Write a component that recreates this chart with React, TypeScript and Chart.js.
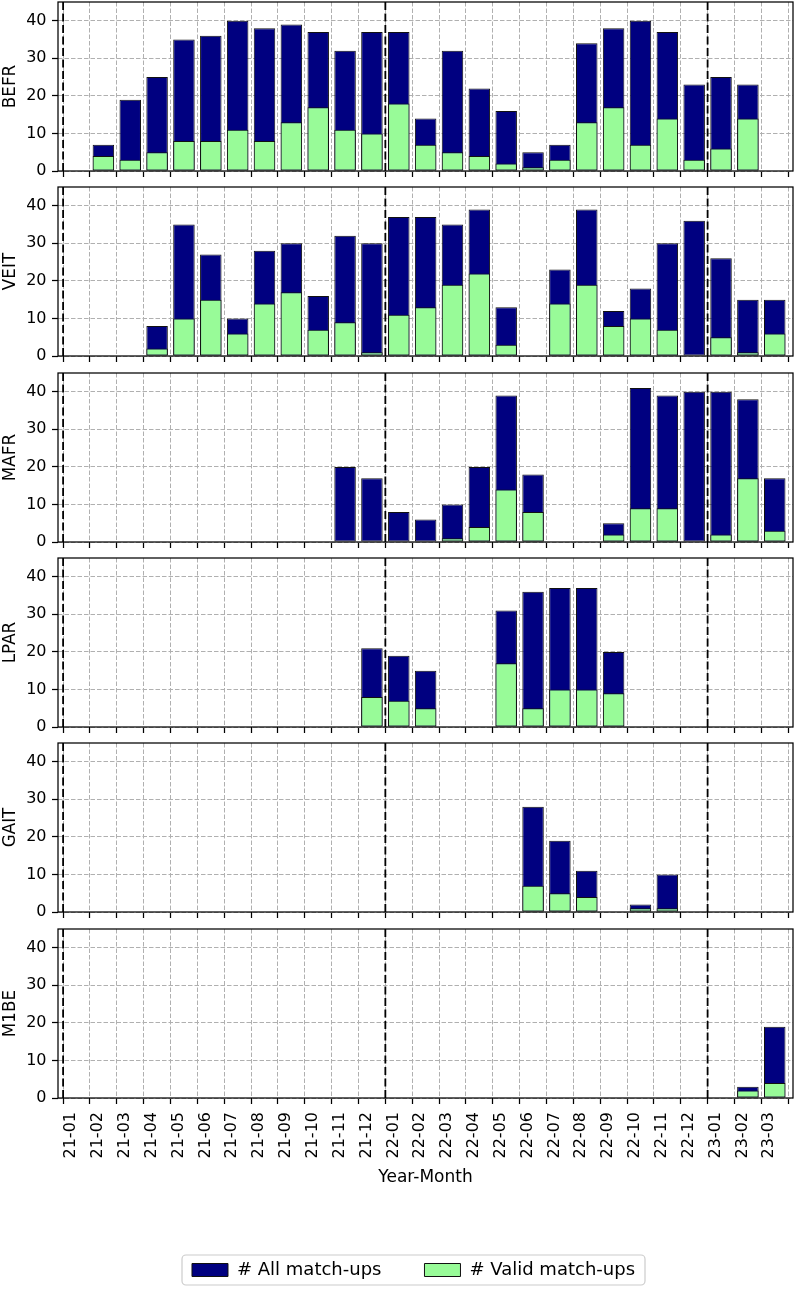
import { useEffect, useRef } from 'react';
import { Chart, registerables } from 'chart.js';

Chart.register(...registerables);
Chart.defaults.font.family = "'DejaVu Sans', sans-serif";
Chart.defaults.color = '#000';

// ---------- data ----------
const months = [
  '21-01', '21-02', '21-03', '21-04', '21-05', '21-06', '21-07', '21-08', '21-09',
  '21-10', '21-11', '21-12', '22-01', '22-02', '22-03', '22-04', '22-05', '22-06',
  '22-07', '22-08', '22-09', '22-10', '22-11', '22-12', '23-01', '23-02', '23-03',
];
// month boundary ticks (start of each month, last one = end of 23-03)
const boundaryTicks = [
  0, 1, 2, 3, 4, 5, 6, 7, 8, 9, 10, 11, 12, 13, 14, 15, 16, 17, 18, 19, 20, 21, 22, 23, 24, 25, 26, 27,
];
const yTicks = [0, 10, 20, 30, 40];
const yearStarts = ['21-01', '22-01', '23-01'];

const befrAll = [0, 7, 19, 25, 35, 36, 40, 38, 39, 37, 32, 37, 37, 14, 32, 22, 16, 5, 7, 34, 38, 40, 37, 23, 25, 23, 0];
const befrValid = [0, 4, 3, 5, 8, 8, 11, 8, 13, 17, 11, 10, 18, 7, 5, 4, 2, 1, 3, 13, 17, 7, 14, 3, 6, 14, 0];

const veitAll = [0, 0, 0, 8, 35, 27, 10, 28, 30, 16, 32, 30, 37, 37, 35, 39, 13, 0, 23, 39, 12, 18, 30, 36, 26, 15, 15];
const veitValid = [0, 0, 0, 2, 10, 15, 6, 14, 17, 7, 9, 1, 11, 13, 19, 22, 3, 0, 14, 19, 8, 10, 7, 0, 5, 1, 6];

const mafrAll = [0, 0, 0, 0, 0, 0, 0, 0, 0, 0, 20, 17, 8, 6, 10, 20, 39, 18, 0, 0, 5, 41, 39, 40, 40, 38, 17];
const mafrValid = [0, 0, 0, 0, 0, 0, 0, 0, 0, 0, 0, 0, 0, 0, 1, 4, 14, 8, 0, 0, 2, 9, 9, 0, 2, 17, 3];

const lparAll = [0, 0, 0, 0, 0, 0, 0, 0, 0, 0, 0, 21, 19, 15, 0, 0, 31, 36, 37, 37, 20, 0, 0, 0, 0, 0, 0];
const lparValid = [0, 0, 0, 0, 0, 0, 0, 0, 0, 0, 0, 8, 7, 5, 0, 0, 17, 5, 10, 10, 9, 0, 0, 0, 0, 0, 0];

const gaitAll = [0, 0, 0, 0, 0, 0, 0, 0, 0, 0, 0, 0, 0, 0, 0, 0, 0, 28, 19, 11, 0, 2, 10, 0, 0, 0, 0];
const gaitValid = [0, 0, 0, 0, 0, 0, 0, 0, 0, 0, 0, 0, 0, 0, 0, 0, 0, 7, 5, 4, 0, 1, 1, 0, 0, 0, 0];

const m1beAll = [0, 0, 0, 0, 0, 0, 0, 0, 0, 0, 0, 0, 0, 0, 0, 0, 0, 0, 0, 0, 0, 0, 0, 0, 0, 3, 19];
const m1beValid = [0, 0, 0, 0, 0, 0, 0, 0, 0, 0, 0, 0, 0, 0, 0, 0, 0, 0, 0, 0, 0, 0, 0, 0, 0, 2, 4];

const allLabel = '# All match-ups';
const validLabel = '# Valid match-ups';
const xTitle = 'Year-Month';

const panels = [
  { name: 'BEFR', all: befrAll, valid: befrValid },
  { name: 'VEIT', all: veitAll, valid: veitValid },
  { name: 'MAFR', all: mafrAll, valid: mafrValid },
  { name: 'LPAR', all: lparAll, valid: lparValid },
  { name: 'GAIT', all: gaitAll, valid: gaitValid },
  { name: 'M1BE', all: m1beAll, valid: m1beValid },
];

// ---------- styling / layout ----------
const NAVY = '#000080';
const GREEN = '#98fb98';
const EDGE = '#111111';
const GRID = '#b0b0b0';
const CANVAS_TOP = [0, 185, 371, 556, 741, 927];
const CANVAS_H = [185, 186, 185, 185, 186, 270];
const PAD_TOP = 2;
const PLOT_H = 169;
const Y_AXIS_W = 58;
const LEGEND_PAD = 43;

const framePlugin = {
  id: 'panelFrame',
  afterDatasetsDraw(chart: any) {
    const { ctx, chartArea: a } = chart;
    const x = chart.scales.x;
    ctx.save();
    ctx.strokeStyle = '#000';
    ctx.lineWidth = 1.8;
    ctx.setLineDash([8, 3.5]);
    yearStarts.forEach((m) => {
      const px = x.getPixelForValue(months.indexOf(m));
      ctx.beginPath();
      ctx.moveTo(px, a.top);
      ctx.lineTo(px, a.bottom);
      ctx.stroke();
    });
    ctx.restore();
  },
  afterDraw(chart: any) {
    const { ctx, chartArea: a } = chart;
    ctx.save();
    ctx.strokeStyle = '#000';
    ctx.lineWidth = 1.25;
    ctx.setLineDash([]);
    ctx.strokeRect(a.left, a.top, a.right - a.left, a.bottom - a.top);
    ctx.restore();
  },
};

const legendFramePlugin = {
  id: 'legendFrame',
  afterDraw(chart: any) {
    const lg = chart.legend;
    if (!lg) return;
    const { ctx } = chart;
    const cx = (lg.left + lg.right) / 2;
    const cy = lg.top + LEGEND_PAD + 9;
    const w = 463;
    const h = 30;
    const x0 = cx - w / 2;
    const y0 = cy - h / 2;
    const r = 4;
    ctx.save();
    ctx.strokeStyle = '#cccccc';
    ctx.lineWidth = 1.2;
    ctx.beginPath();
    ctx.moveTo(x0 + r, y0);
    ctx.arcTo(x0 + w, y0, x0 + w, y0 + h, r);
    ctx.arcTo(x0 + w, y0 + h, x0, y0 + h, r);
    ctx.arcTo(x0, y0 + h, x0, y0, r);
    ctx.arcTo(x0, y0, x0 + w, y0, r);
    ctx.closePath();
    ctx.stroke();
    ctx.restore();
  },
};

function makePanel(canvas: HTMLCanvasElement, p: { name: string; all: number[]; valid: number[] }, isLast: boolean, canvasH: number) {
  const xAxisH = canvasH - PAD_TOP - PLOT_H;
  const barCommon = {
    borderColor: EDGE,
    borderWidth: 1,
    borderSkipped: false,
    grouped: false,
    categoryPercentage: 1,
    barPercentage: 0.8,
  };
  return new Chart(canvas, {
    type: 'bar',
    data: {
      datasets: [
        {
          ...barCommon,
          label: allLabel,
          data: months.map((_, i) => ({ x: i + 0.5, y: p.all[i] })),
          backgroundColor: NAVY,
          order: 1,
        } as any,
        {
          ...barCommon,
          label: validLabel,
          data: months.map((_, i) => ({ x: i + 0.5, y: p.valid[i] })),
          backgroundColor: GREEN,
          order: 0,
        } as any,
      ],
    },
    options: {
      responsive: false,
      animation: false,
      events: [],
      layout: { padding: { top: PAD_TOP, left: 0, right: 3, bottom: 0 } },
      plugins: { legend: { display: false }, tooltip: { enabled: false } },
      scales: {
        x: {
          type: 'linear',
          min: -0.19,
          max: 27.18,
          offset: false,
          afterBuildTicks: (s: any) => {
            s.ticks = boundaryTicks.map((v) => ({ value: v }));
          },
          afterFit: (s: any) => {
            s.height = xAxisH;
            s.paddingLeft = 0;
            s.paddingRight = 0;
          },
          grid: { offset: false, color: GRID, lineWidth: 1, tickColor: '#000', tickWidth: 1.25, tickLength: 6 },
          border: { display: false, dash: [4.5, 2] },
          ticks: {
            display: isLast,
            autoSkip: false,
            minRotation: 90,
            maxRotation: 90,
            labelOffset: 8,
            padding: 8,
            font: { size: 16 },
            color: '#000',
            callback: (v: any) => months[v as number] ?? '',
          },
          title: { display: isLast, text: xTitle, font: { size: 17 }, color: '#000', padding: { top: 0, bottom: 9 } },
        },
        y: {
          min: 0,
          max: 45,
          afterBuildTicks: (s: any) => {
            s.ticks = yTicks.map((v) => ({ value: v }));
          },
          afterFit: (s: any) => {
            s.width = Y_AXIS_W;
            s.paddingTop = 0;
            s.paddingBottom = 0;
          },
          grid: { color: GRID, lineWidth: 1, tickColor: '#000', tickWidth: 1.25, tickLength: 6 },
          border: { display: false, dash: [4.5, 2] },
          ticks: { font: { size: 16 }, color: '#000', padding: 5.5 },
          title: { display: true, text: p.name, font: { size: 16.8 }, color: '#000', padding: { top: 1, bottom: 0 } },
        },
      },
    } as any,
    plugins: [framePlugin],
  });
}

function makeLegend(canvas: HTMLCanvasElement) {
  return new Chart(canvas, {
    type: 'bar',
    data: {
      labels: [],
      datasets: [
        { label: allLabel, data: [], backgroundColor: NAVY, borderColor: EDGE, borderWidth: 1, order: 1 },
        { label: validLabel, data: [], backgroundColor: GREEN, borderColor: EDGE, borderWidth: 1, order: 0 },
      ],
    },
    options: {
      responsive: false,
      animation: false,
      events: [],
      layout: { padding: 0 },
      scales: { x: { display: false }, y: { display: false } },
      plugins: {
        tooltip: { enabled: false },
        legend: {
          display: true,
          position: 'top',
          maxHeight: 200,
          labels: {
            boxWidth: 36,
            boxHeight: 13,
            padding: LEGEND_PAD,
            color: '#000',
            font: { size: 18 },
            sort: (a: any, b: any) => a.datasetIndex - b.datasetIndex,
          },
        },
      },
    } as any,
    plugins: [legendFramePlugin],
  });
}

export default function App() {
  const refs = useRef<(HTMLCanvasElement | null)[]>([]);
  const legendRef = useRef<HTMLCanvasElement | null>(null);

  useEffect(() => {
    const charts: Chart[] = [];
    panels.forEach((p, i) => {
      const c = refs.current[i];
      if (c) charts.push(makePanel(c, p, i === panels.length - 1, CANVAS_H[i]));
    });
    if (legendRef.current) charts.push(makeLegend(legendRef.current));
    return () => charts.forEach((c) => c.destroy());
  }, []);

  return (
    <div style={{ position: 'absolute', left: 0, top: 0, width: 796, height: 1290, background: '#fff' }}>
      {panels.map((p, i) => (
        <canvas
          key={p.name}
          ref={(el) => {
            refs.current[i] = el;
          }}
          width={796}
          height={CANVAS_H[i]}
          style={{ position: 'absolute', left: 0, top: CANVAS_TOP[i], display: 'block' }}
        />
      ))}
      <canvas
        ref={legendRef}
        width={601}
        height={72}
        style={{ position: 'absolute', left: 113, top: 1218, display: 'block' }}
      />
    </div>
  );
}
